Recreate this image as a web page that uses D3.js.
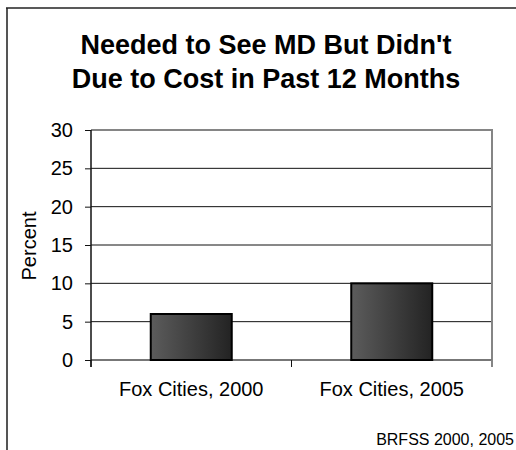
<!DOCTYPE html>
<html>
<head>
<meta charset="utf-8">
<script src="https://cdn.jsdelivr.net/npm/d3@7"></script>
<style>
  body { margin: 0; background: #fff; }
  svg { display: block; font-family: "Liberation Sans", Arial, sans-serif; }
</style>
</head>
<body>
<div id="chart"></div>
<script>
// chart data
const categories = ['Fox Cities, 2000', 'Fox Cities, 2005'];
const percents = [6, 10];
const yTicks = [0, 5, 10, 15, 20, 25, 30];
const titleLines = ['Needed to See MD But Didn\'t', 'Due to Cost in Past 12 Months'];
const sourceNote = 'BRFSS 2000, 2005';

const width = 516;
const height = 450;
const plot = { left: 91, right: 492, top: 130, bottom: 360 };

const svg = d3.select('#chart')
  .append('svg')
  .attr('width', width)
  .attr('height', height);

// bar gradient, lighter on the left
const grad = svg.append('defs')
  .append('linearGradient')
  .attr('id', 'barFill')
  .attr('x1', '0%').attr('x2', '100%')
  .attr('y1', '0%').attr('y2', '0%');
grad.append('stop').attr('offset', '0%').attr('stop-color', '#5c5c5c');
grad.append('stop').attr('offset', '100%').attr('stop-color', '#232323');

// outer frame (cropped at right/bottom)
svg.append('line')
  .attr('x1', 7).attr('x2', 7).attr('y1', 8).attr('y2', height)
  .attr('stroke', '#555').attr('stroke-width', 2);
svg.append('line')
  .attr('x1', 6).attr('x2', width).attr('y1', 8).attr('y2', 8)
  .attr('stroke', '#222').attr('stroke-width', 1.5);

// title
svg.append('text')
  .attr('text-anchor', 'middle')
  .attr('font-size', 27)
  .attr('font-weight', 'bold')
  .selectAll('tspan')
  .data(titleLines)
  .join('tspan')
  .attr('x', 266)
  .attr('y', (d, i) => 54 + i * 34)
  .text(d => d);

const x = d3.scaleBand()
  .domain(categories)
  .range([plot.left, plot.right])
  .paddingInner(0.596)
  .paddingOuter(0.298);

const y = d3.scaleLinear()
  .domain([0, 30])
  .range([plot.bottom, plot.top]);

// gridlines
svg.append('g')
  .selectAll('line')
  .data(yTicks.filter(t => t > 0 && t < 30))
  .join('line')
  .attr('x1', plot.left).attr('x2', plot.right)
  .attr('y1', d => y(d)).attr('y2', d => y(d))
  .attr('stroke', '#111').attr('stroke-width', 1);

// plot border top / right / bottom
svg.append('path')
  .attr('d', `M${plot.left},${y(30)}H${plot.right}V${y(0)}`)
  .attr('fill', 'none')
  .attr('stroke', '#858585')
  .attr('stroke-width', 2);
svg.append('line')
  .attr('x1', plot.left).attr('x2', plot.right)
  .attr('y1', y(0)).attr('y2', y(0))
  .attr('stroke', '#777').attr('stroke-width', 2);

// bars
svg.append('g')
  .selectAll('rect')
  .data(categories)
  .join('rect')
  .attr('x', d => x(d))
  .attr('width', x.bandwidth())
  .attr('y', (d, i) => y(percents[i]))
  .attr('height', (d, i) => y(0) - y(percents[i]))
  .attr('fill', 'url(#barFill)')
  .attr('stroke', '#000')
  .attr('stroke-width', 2);

// y axis
const yAxis = svg.append('g')
  .attr('transform', `translate(${plot.left},0)`)
  .call(d3.axisLeft(y).tickValues(yTicks).tickSize(6).tickPadding(12));
yAxis.select('.domain')
  .attr('d', `M0,${y(30)}V${y(0) + 7}`)
  .attr('stroke', '#111').attr('stroke-width', 1.5);
yAxis.selectAll('.tick line').attr('stroke', '#111');
yAxis.selectAll('.tick text')
  .attr('font-size', 20)
  .attr('font-family', '"Liberation Sans", Arial, sans-serif')
  .attr('fill', '#000');

// category tick marks between bands
svg.append('g')
  .selectAll('line')
  .data(d3.range(categories.length + 1))
  .join('line')
  .attr('x1', i => plot.left + i * x.step())
  .attr('x2', i => plot.left + i * x.step())
  .attr('y1', y(0)).attr('y2', y(0) + 7)
  .attr('stroke', i => (i === categories.length ? '#858585' : '#111'))
  .attr('stroke-width', i => (i === categories.length ? 2 : 1));

// category labels
svg.append('g')
  .selectAll('text')
  .data(categories)
  .join('text')
  .attr('x', d => x(d) + x.bandwidth() / 2)
  .attr('y', 396)
  .attr('text-anchor', 'middle')
  .attr('font-size', 20)
  .text(d => d);

// y axis title
svg.append('text')
  .attr('transform', `translate(36,${(plot.top + plot.bottom) / 2 + 1}) rotate(-90)`)
  .attr('text-anchor', 'middle')
  .attr('font-size', 20)
  .text('Percent');

// source note
svg.append('text')
  .attr('x', 514)
  .attr('y', 445)
  .attr('text-anchor', 'end')
  .attr('font-size', 16)
  .text(sourceNote);
</script>
</body>
</html>
